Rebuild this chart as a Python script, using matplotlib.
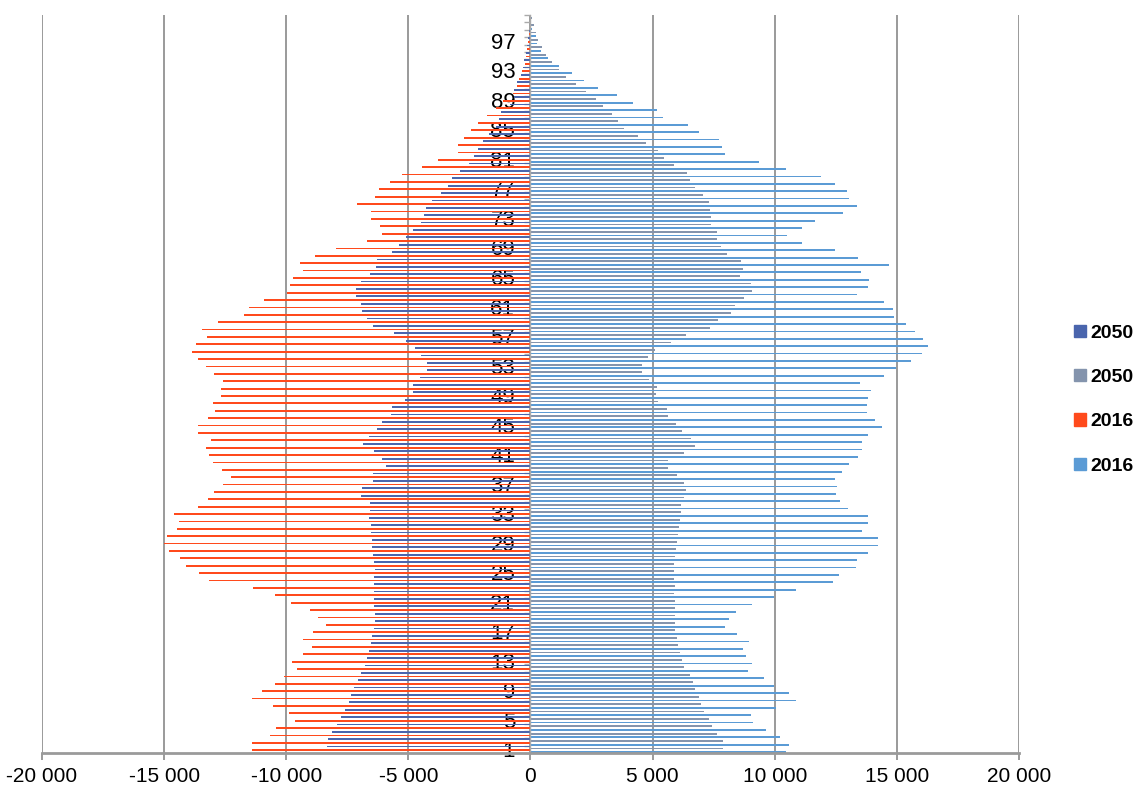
import numpy as np
import matplotlib
matplotlib.use("Agg")
import matplotlib.pyplot as plt
from matplotlib.patches import Patch

plt.rcParams['font.family'] = ['Liberation Sans', 'DejaVu Sans']

# ages 1..100, values (men negative, women positive)
ages = np.arange(1, 101)

men_2050 = [-8330, -8290, -8110, -7930, -7760, -7600, -7420, -7350, -7230, -7060,
            -6940, -6790, -6690, -6620, -6540, -6470, -6400, -6350, -6350, -6400,
            -6400, -6400, -6400, -6400, -6350, -6400, -6440, -6500, -6500, -6530,
            -6540, -6600, -6570, -6570, -6920, -6900, -6440, -6440, -5930, -6060,
            -6400, -6840, -6600, -6300, -6060, -5710, -5670, -5150, -4830, -4820,
            -4520, -4230, -4250, -4490, -4710, -5080, -5580, -6440, -6690, -6900,
            -6950, -7130, -7160, -6940, -6570, -6320, -6300, -5690, -5370, -5080,
            -4820, -4470, -4380, -4260, -4030, -3680, -3380, -3210, -2880, -2520,
            -2300, -2150, -1930, -1710, -1420, -1300, -1200, -830, -690, -690,
            -540, -400, -310, -250, -180, -130, -90, -70, -40, -20]

women_2050 = [7900, 7870, 7640, 7430, 7300, 7120, 7000, 6920, 6740, 6660,
              6520, 6270, 6210, 6120, 6060, 5990, 5920, 5920, 5920, 5920,
              5920, 5890, 5920, 5890, 5890, 5890, 5920, 5960, 5990, 6030,
              6100, 6120, 6170, 6170, 6300, 6370, 6270, 5990, 5630, 5630,
              6300, 6740, 6570, 6210, 5960, 5630, 5590, 5220, 5140, 5170,
              4840, 4570, 4570, 4830, 5100, 5760, 6370, 7370, 7690, 8230,
              8380, 8730, 9070, 9040, 8590, 8690, 8620, 8050, 7800, 7620,
              7620, 7410, 7410, 7370, 7320, 7080, 6750, 6520, 6410, 5890,
              5480, 5220, 4730, 4420, 3820, 3600, 3340, 2960, 2690, 2280,
              1870, 1460, 1160, 870, 640, 480, 300, 230, 150, 70]

men_2016 = [-11400, -11400, -10670, -10410, -9650, -9880, -10530, -11390, -10980, -10450,
            -10100, -9550, -9760, -9330, -8960, -9330, -8890, -8370, -8700, -9030,
            -9820, -10450, -11350, -13160, -13570, -14100, -14350, -14800, -14990, -14890,
            -14490, -14380, -14600, -13630, -13210, -12940, -12580, -12250, -12620, -12990,
            -13160, -13280, -13100, -13630, -13630, -13210, -12910, -12990, -12690, -12660,
            -12580, -12960, -13280, -13600, -13860, -13690, -13250, -13450, -12780, -11740,
            -11520, -10890, -9980, -9840, -9720, -9330, -9430, -8810, -7980, -6690,
            -6060, -6180, -6510, -6540, -7090, -6370, -6220, -5740, -5260, -4450,
            -3790, -2960, -2960, -2710, -2420, -2150, -1790, -1420, -1130, -730,
            -540, -470, -350, -220, -180, -130, -90, -60, -40, -20]

women_2016 = [10460, 10600, 10220, 9640, 9100, 9030, 10050, 10860, 10570, 9980,
              9580, 8910, 9070, 8830, 8690, 8960, 8440, 7970, 8120, 8420,
              9070, 9980, 10870, 12390, 12640, 13330, 13370, 13830, 14230, 14230,
              13590, 13800, 13830, 12990, 12670, 12520, 12550, 12480, 12740, 13050,
              13410, 13560, 13560, 13830, 14390, 14090, 13760, 13760, 13800, 13940,
              13490, 14490, 14950, 15580, 16040, 16260, 16080, 15750, 15370, 14900,
              14840, 14490, 13380, 13830, 13870, 13530, 14660, 13420, 12470, 11100,
              10500, 11100, 11650, 12810, 13370, 13030, 12960, 12450, 11890, 10460,
              9370, 7980, 7840, 7730, 6920, 6450, 5420, 5170, 4210, 3530,
              2750, 2180, 1700, 1160, 720, 440, 270, 230, 68, 30]

x_ticks = [-20000, -15000, -10000, -5000, 0, 5000, 10000, 15000, 20000]
x_labels = ['-20 000', '-15 000', '-10 000', '-5 000', '0', '5 000', '10 000', '15 000', '20 000']
age_ticks = list(range(1, 98, 4))

c_m2050 = '#4a65ad'
c_w2050 = '#8494ad'
c_m2016 = '#ff4a1c'
c_w2016 = '#5b9bd5'
grid_c = '#9a9a9a'

fig = plt.figure(figsize=(11.38, 7.93), dpi=100)
ax = fig.add_axes([0.0369, 0.0504, 0.8585, 0.9307])

# move the category axis to x=0 first (this resets the tick objects)
for s in ['top', 'right']:
    ax.spines[s].set_visible(False)
ax.spines['left'].set_position(('data', 0))
ax.spines['left'].set_color('#aaaaaa')
ax.spines['left'].set_linewidth(1.0)
ax.spines['bottom'].set_color(grid_c)
ax.spines['bottom'].set_linewidth(2.0)

h = 0.24
ax.barh(ages - 0.375, women_2016, height=h, color=c_w2016, zorder=2)
ax.barh(ages - 0.125, men_2016, height=h, color=c_m2016, zorder=2)
ax.barh(ages + 0.125, women_2050, height=h, color=c_w2050, zorder=2)
ax.barh(ages + 0.375, men_2050, height=h, color=c_m2050, zorder=2)

ax.set_xlim(-20000, 20000)
ax.set_ylim(0.5, 100.5)

ax.set_xticks(x_ticks)
ax.set_xticklabels(x_labels)
ax.xaxis.grid(True, color=grid_c, linewidth=1.4, zorder=0)
ax.set_axisbelow(True)
ax.tick_params(axis='x', length=5, width=1.4, color=grid_c, pad=5, labelsize=15)

ax.set_yticks(age_ticks)
ax.set_yticklabels([str(a) for a in age_ticks])
ax.set_yticks(np.arange(0.5, 101, 1.0), minor=True)
ax.tick_params(axis='y', which='major', length=0, pad=11, labelsize=16)
ax.tick_params(axis='y', which='minor', length=4.5, width=1.0, color='#aaaaaa', direction='out')

handles = [Patch(color=c_m2050, label='2050'),
           Patch(color=c_w2050, label='2050'),
           Patch(color=c_m2016, label='2016'),
           Patch(color=c_w2016, label='2016')]
fig.legend(handles=handles, loc='center left', bbox_to_anchor=(0.944, 0.496),
           frameon=False, handlelength=0.6, handleheight=0.6, handletextpad=0.25,
           labelspacing=1.4, borderaxespad=0, borderpad=0,
           prop={'weight': 'bold', 'size': 14})

fig.savefig('out.png', dpi=100)
